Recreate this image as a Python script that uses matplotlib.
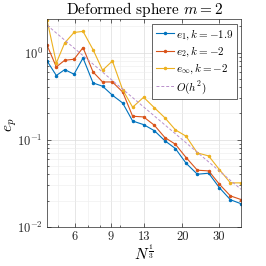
import numpy as np
import matplotlib
matplotlib.use('Agg')
import matplotlib.pyplot as plt
from matplotlib.ticker import FixedLocator, NullFormatter, LogLocator, LogFormatterMathtext

# ── data ──────────────────────────────────────────────────────────────────────
n13 = [4.41, 4.89, 5.37, 5.96, 6.59, 7.37, 8.20, 9.15, 10.26, 11.47,
       12.97, 14.62, 16.44, 18.49, 20.84, 23.64, 26.82, 30.23, 34.19, 38.5]

e1 = [0.80, 0.545, 0.638, 0.564, 0.867, 0.448, 0.411, 0.324, 0.264, 0.164,
      0.149, 0.127, 0.0974, 0.0793, 0.0538, 0.0402, 0.0413, 0.0282, 0.0205, 0.01845]
e2 = [1.21, 0.684, 0.816, 0.838, 1.14, 0.599, 0.460, 0.460, 0.353, 0.186,
      0.1826, 0.1466, 0.106, 0.0888, 0.0625, 0.0447, 0.0439, 0.0309, 0.0227, 0.0206]
einf = [2.35, 0.760, 1.29, 1.70, 1.75, 1.08, 0.627, 0.80, 0.3745, 0.236,
        0.307, 0.233, 0.1787, 0.130, 0.1097, 0.0706, 0.0652, 0.0455, 0.032, 0.032]

# O(h^2) reference: straight line in log-log between the end points
ref_x = [n13[0], n13[-1]]
ref_y = [2.06, 0.027]

xticks = [6, 9, 13, 20, 30]

# ── style ─────────────────────────────────────────────────────────────────────
plt.rcParams['font.family'] = 'serif'
plt.rcParams['font.serif'] = ['cmr10', 'DejaVu Serif']
plt.rcParams['mathtext.fontset'] = 'cm'
plt.rcParams['axes.formatter.use_mathtext'] = True
plt.rcParams['axes.unicode_minus'] = True

BLUE, ORANGE, YELLOW, PURPLE = '#0072BD', '#D95319', '#EDB120', '#B98FCB'

fig = plt.figure(figsize=(2.66, 2.66), dpi=100, facecolor='white')
ax = fig.add_axes([0.177, 0.147, 0.729, 0.780])

ax.plot(n13, e1, color=BLUE, lw=0.8, marker='.', ms=3, label=r'$e_1, k = -1.9$')
ax.plot(n13, e2, color=ORANGE, lw=0.8, marker='.', ms=3, label=r'$e_2, k = -2$')
ax.plot(n13, einf, color=YELLOW, lw=0.8, marker='.', ms=3, label=r'$e_\infty, k = -2$')
ax.plot(ref_x, ref_y, color=PURPLE, lw=0.7, ls=(0, (3, 2)), label=r'$O(h^2)$')

ax.set_xscale('log')
ax.set_yscale('log')
ax.set_xlim(n13[0], n13[-1])
ax.set_ylim(1e-2, 2.4)

ax.xaxis.set_major_locator(FixedLocator(xticks))
ax.set_xticklabels([str(t) for t in xticks])
ax.xaxis.set_minor_locator(LogLocator(base=10, subs=np.arange(1, 10)))
ax.xaxis.set_minor_formatter(NullFormatter())
ax.yaxis.set_major_locator(LogLocator(base=10, numticks=5))
ax.yaxis.set_major_formatter(LogFormatterMathtext())
ax.yaxis.set_minor_locator(LogLocator(base=10, subs=np.arange(2, 10)))
ax.yaxis.set_minor_formatter(NullFormatter())

ax.tick_params(which='both', direction='in', top=True, right=True,
               colors='#262626', labelsize=9, width=0.5)
ax.tick_params(which='major', length=3, pad=3)
ax.tick_params(which='minor', length=1.5)
for sp in ax.spines.values():
    sp.set_color('#262626')
    sp.set_linewidth(0.5)

ax.grid(which='major', color='#dcdcdc', lw=0.5)
ax.grid(which='minor', color='#ededed', lw=0.4)
ax.set_axisbelow(True)

ax.set_title(r'Deformed sphere $m = 2$', fontsize=11, pad=4)
ax.set_xlabel(r'$N^{\frac{1}{3}}$', fontsize=11, labelpad=0)
ax.set_ylabel(r'$e_p$', fontsize=11, va='center')
ax.yaxis.set_label_coords(-0.185, 0.49)

leg = ax.legend(loc='upper right', fontsize=8, handlelength=1.6, handletextpad=0.2,
                borderpad=0.3, labelspacing=0.25, borderaxespad=0.4,
                fancybox=False, framealpha=1, edgecolor='#262626')
leg.get_frame().set_linewidth(0.5)

plt.savefig('out.png', dpi=100, facecolor='white')
plt.close()
